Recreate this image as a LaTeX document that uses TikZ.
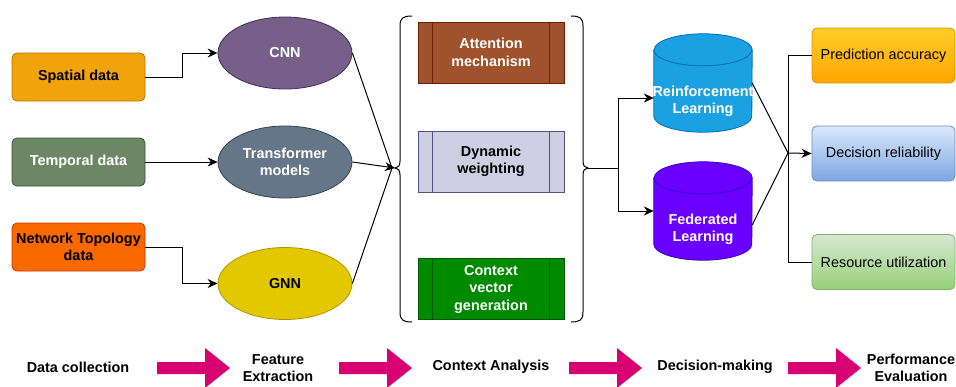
\documentclass[tikz,border=0pt]{standalone}
\usepackage{fontspec}
\setmainfont{Liberation Sans}
\usetikzlibrary{arrows.meta,shapes.geometric}
\definecolor{spfill}{HTML}{F0A30A}\definecolor{spline}{HTML}{BD7000}
\definecolor{tmfill}{HTML}{6D8764}\definecolor{tmline}{HTML}{3A5431}
\definecolor{ntfill}{HTML}{FA6800}\definecolor{ntline}{HTML}{C73500}
\definecolor{cnnfill}{HTML}{76608A}\definecolor{cnnline}{HTML}{432D57}
\definecolor{trfill}{HTML}{647687}\definecolor{trline}{HTML}{314354}
\definecolor{gnnfill}{HTML}{E3C800}\definecolor{gnnline}{HTML}{B09500}
\definecolor{attfill}{HTML}{A0522D}\definecolor{attline}{HTML}{6D1F00}
\definecolor{dynfill}{HTML}{D0CEE2}\definecolor{dynline}{HTML}{56517E}
\definecolor{ctxfill}{HTML}{008A00}\definecolor{ctxline}{HTML}{005700}
\definecolor{rlfill}{HTML}{1BA1E2}\definecolor{rlline}{HTML}{006EAF}
\definecolor{flfill}{HTML}{6A00FF}\definecolor{flline}{HTML}{3700CC}
\definecolor{predtop}{HTML}{FFCD28}\definecolor{predbot}{HTML}{FFA500}\definecolor{predline}{HTML}{D79B00}
\definecolor{dectop}{HTML}{DAE8FC}\definecolor{decbot}{HTML}{7EA6E0}\definecolor{decline}{HTML}{6C8EBF}
\definecolor{restop}{HTML}{D5E8D4}\definecolor{resbot}{HTML}{97D077}\definecolor{resline}{HTML}{82B366}
\definecolor{blockpink}{HTML}{D80073}

\begin{document}
\begin{tikzpicture}[x=1pt,y=-1pt,font=\fontsize{14.4}{17.5}\selectfont\bfseries,
src/.style={rectangle,rounded corners=5pt,minimum width=133pt,minimum height=48pt,align=center,inner sep=0pt,line width=.8pt},
mdl/.style={ellipse,minimum width=134pt,minimum height=72pt,align=center,inner sep=0pt,line width=.8pt},
proc/.style={rectangle,minimum width=146pt,minimum height=61pt,align=center,inner sep=0pt,line width=.8pt},
drum/.style={rectangle,minimum width=98pt,minimum height=98pt,inner sep=0pt},
res/.style={rectangle,rounded corners=5pt,minimum width=143pt,minimum height=55pt,inner sep=0pt,line width=.8pt,font=\fontsize{14.4}{17.5}\selectfont},
conn/.style={line width=1pt},arr/.style={conn,-{Stealth[length=10pt,width=9pt]}},
block/.style={fill=blockpink}]
\useasboundingbox (0,0) rectangle (956,386);
\node[src,fill=spfill,draw=spline](sp)at(78.5,77){Spatial data};
\node[src,fill=tmfill,draw=tmline,text=white](tm)at(78.5,162){Temporal data};
\node[src,fill=ntfill,draw=ntline](nt)at(78.5,247){Network Topology\\data};
\node[mdl,fill=cnnfill,draw=cnnline,text=white](cnn)at(285,53){CNN};
\node[mdl,fill=trfill,draw=trline,text=white](tr)at(285,162){Transformer\\models};
\node[mdl,fill=gnnfill,draw=gnnline](gnn)at(285,283.5){GNN};
\draw[arr](sp.east)--++(37,0)|-(cnn.west);\draw[arr](tm)--(tr);\draw[arr](nt.east)--++(37,0)|-(gnn.west);
\draw[conn](412,16)..controls(403,16)and(400,18)..(400,26)--(400,161)..controls(400,166)and(398,168)..(395,168)..controls(398,168)and(400,170)..(400,175)--(400,312)..controls(400,320)and(403,322)..(412,322);
\draw[conn](571,16)..controls(580,16)and(583,18)..(583,26)--(583,161)..controls(583,166)and(585,168)..(588,168)..controls(585,168)and(583,170)..(583,175)--(583,312)..controls(583,320)and(580,322)..(571,322);
\coordinate(lb)at(395,168);\coordinate(rb)at(588,168);\coordinate(m1)at(392,168);
\draw[conn](cnn.east)--(m1);\draw[conn](gnn.east)--(m1);\draw[arr](tr.east)--(lb);
\node[proc,fill=attfill,draw=attline,text=white](att)at(491,52.5){Attention\\mechanism};
\node[proc,fill=dynfill,draw=dynline](dyn)at(491,161.5){Dynamic\\weighting};
\node[proc,fill=ctxfill,draw=ctxline,text=white](ctx)at(491,289){Context\\vector\\generation};
\foreach \n/\c in {att/attline,dyn/dynline,ctx/ctxline}
  \draw[\c,line width=.8pt]([xshift=15pt]\n.north west)--([xshift=15pt]\n.south west)([xshift=-15pt]\n.north east)--([xshift=-15pt]\n.south east);
\node[drum](rl)at(703,83){};\node[drum](fl)at(703,211){};
\foreach \n/\c in {rl/rl,fl/fl}{
  \filldraw[fill=\c fill,draw=\c line,line width=.8pt]([yshift=-16pt]\n.north west)--([yshift=16pt]\n.south west)arc[start angle=180,end angle=0,x radius=49,y radius=16]--([yshift=-16pt]\n.north east)arc[start angle=0,end angle=-180,x radius=49,y radius=16]--cycle;
  \draw[\c line,line width=.8pt]([yshift=-16pt]\n.north west)arc[start angle=180,end angle=0,x radius=49,y radius=16];}
\node[text=white,align=center](rltxt)at([yshift=-18.5pt]rl.center){Reinforcement\\Learning};
\node[text=white,align=center](fltxt)at([yshift=-18.5pt]fl.center){Federated\\Learning};
\coordinate(s1)at(618,168);\coordinate(m2)at(788,153);
\draw[conn](rb)--(s1);\draw[arr](s1)|-([yshift=-15pt]rl.west);\draw[arr](s1)|-(fl.west);
\node[res,top color=predtop,bottom color=predbot,draw=predline](pred)at(883.5,55.5){Prediction accuracy};
\node[res,top color=dectop,bottom color=decbot,draw=decline](dec)at(883.5,153.5){Decision reliability};
\node[res,top color=restop,bottom color=resbot,draw=resline](resu)at(883.5,262){Resource utilization};
\draw[conn](rl.east)--(m2);\draw[conn]([yshift=-14pt]fl.east)--(m2);\draw[arr](m2)--(dec.west);\draw[conn](m2)|-(pred.west);\draw[conn](m2)|-(resu.west);
\node(dc)at(78,367){Data collection};\node[align=center](fe)at(278,368){Feature\\Extraction};\node(ca)at(491,367){Context Analysis};
\node(dm)at(715,367){Decision-making};\node[align=center](pe)at(911,368){Performance\\Evaluation};
\foreach \x in {157,339,569,788}
  \fill[block](\x,362)--++(48,0)--++(0,-14)--++(25,20)--++(-25,20)--++(0,-14)--++(-48,0)--cycle;
\end{tikzpicture}
\end{document}
